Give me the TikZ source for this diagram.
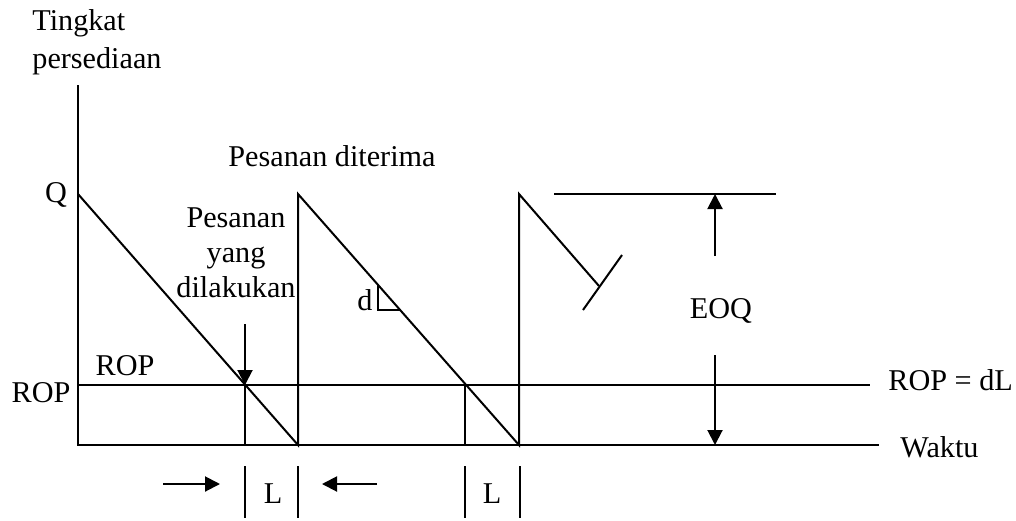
\documentclass[tikz,border=0pt]{standalone}
\usepackage{fontspec}
\setmainfont{Liberation Serif}
\usetikzlibrary{arrows.meta}
\tikzset{
        inv_line/.style={draw=black, line width=1pt},
        inv_arrow/.style={inv_line, -{Triangle[length=7.5pt,width=7.5pt]}},
        lbl_text/.style={font=\fontsize{15.1}{17.5}\selectfont, inner sep=0pt},
        bar_line/.style={draw=black, line width=1pt}
    }
\begin{document}
\begin{tikzpicture}[x=0.5pt, y=-0.5pt]
    \useasboundingbox (0,0) rectangle (1016,520);
    % axes
    \coordinate (y_top) at (78,85);
    \coordinate (origin) at (78,445);
    \coordinate (x_end) at (879,445);
    \draw[inv_line] (y_top) -- (origin) -- (x_end);
    \node[lbl_text, anchor=base west] (y_lbl_a) at (32,30) {Tingkat};
    \node[lbl_text, anchor=base west] (y_lbl_b) at (32,68) {persediaan};
    \node[lbl_text, anchor=base west] (x_lbl) at (900,457) {Waktu};
    % reorder point line
    \coordinate (rop_start) at (78,385);
    \coordinate (rop_end) at (870,385);
    \draw[inv_line] (rop_start) -- (rop_end);
    \node[lbl_text, anchor=base] (rop_left) at (41,402) {ROP};
    \node[lbl_text, anchor=base] (rop_in) at (125,375) {ROP};
    \node[lbl_text, anchor=base west] (rop_eq) at (888,390) {ROP = dL};
    \node[lbl_text, anchor=base] (q_lbl) at (56,202) {Q};
    % sawtooth
    \coordinate (peak_a) at (78,194);
    \coordinate (low_a) at (298,445);
    \coordinate (peak_b) at (298,194);
    \coordinate (low_b) at (519,445);
    \coordinate (peak_c) at (519,194);
    \coordinate (cut_c) at (599,286);
    \draw[inv_line, line join=miter]
        (peak_a) -- (low_a) -- (peak_b) -- (low_b) -- (peak_c) -- (cut_c);
    \coordinate (tick_a) at (622,255);
    \coordinate (tick_b) at (583,310);
    \draw[inv_line] (tick_a) -- (tick_b);
    % order placed / lead time marks
    \coordinate (ord_a) at (245,385);
    \coordinate (ord_a_foot) at (245,445);
    \coordinate (ord_a_top) at (245,324);
    \coordinate (ord_b) at (465,385);
    \coordinate (ord_b_foot) at (465,445);
    \draw[inv_line] (ord_a) -- (ord_a_foot);
    \draw[inv_line] (ord_b) -- (ord_b_foot);
    \draw[inv_arrow] (ord_a_top) -- (ord_a);
    \node[lbl_text, align=center] (ord_lbl) at (236,253) {Pesanan\\yang\\dilakukan};
    \node[lbl_text, anchor=base west] (recv_lbl) at (228,166) {Pesanan diterima};
    % slope triangle
    \coordinate (d_top) at (378,285);
    \coordinate (d_corner) at (378,310);
    \coordinate (d_right) at (400,310);
    \draw[inv_line] (d_top) -- (d_corner) -- (d_right);
    \node[lbl_text, anchor=base] (d_lbl) at (365,310) {d};
    % EOQ
    \coordinate (eoq_top_a) at (554,194);
    \coordinate (eoq_top_b) at (776,194);
    \draw[inv_line] (eoq_top_a) -- (eoq_top_b);
    \coordinate (eoq_up) at (715,194);
    \coordinate (eoq_up_tail) at (715,256);
    \coordinate (eoq_dn_tail) at (715,355);
    \coordinate (eoq_dn) at (715,445);
    \draw[inv_arrow] (eoq_up_tail) -- (eoq_up);
    \draw[inv_arrow] (eoq_dn_tail) -- (eoq_dn);
    \node[lbl_text, anchor=base] (eoq_lbl) at (721,318) {EOQ};
    % lead time L
    \coordinate (la_tail) at (163,484);
    \coordinate (la_tip) at (220,484);
    \coordinate (lb_tail) at (377,484);
    \coordinate (lb_tip) at (322,484);
    \draw[inv_arrow] (la_tail) -- (la_tip);
    \draw[inv_arrow] (lb_tail) -- (lb_tip);
    \foreach \bx [count=\bi] in {245,298,465,520} {
        \coordinate (bar_top_\bi) at (\bx,466);
        \coordinate (bar_bot_\bi) at (\bx,518);
        \draw[bar_line] (bar_top_\bi) -- (bar_bot_\bi);
    }
    \node[lbl_text, anchor=base] (l_lbl_a) at (273,503) {L};
    \node[lbl_text, anchor=base] (l_lbl_b) at (492,503) {L};
\end{tikzpicture}
\end{document}
